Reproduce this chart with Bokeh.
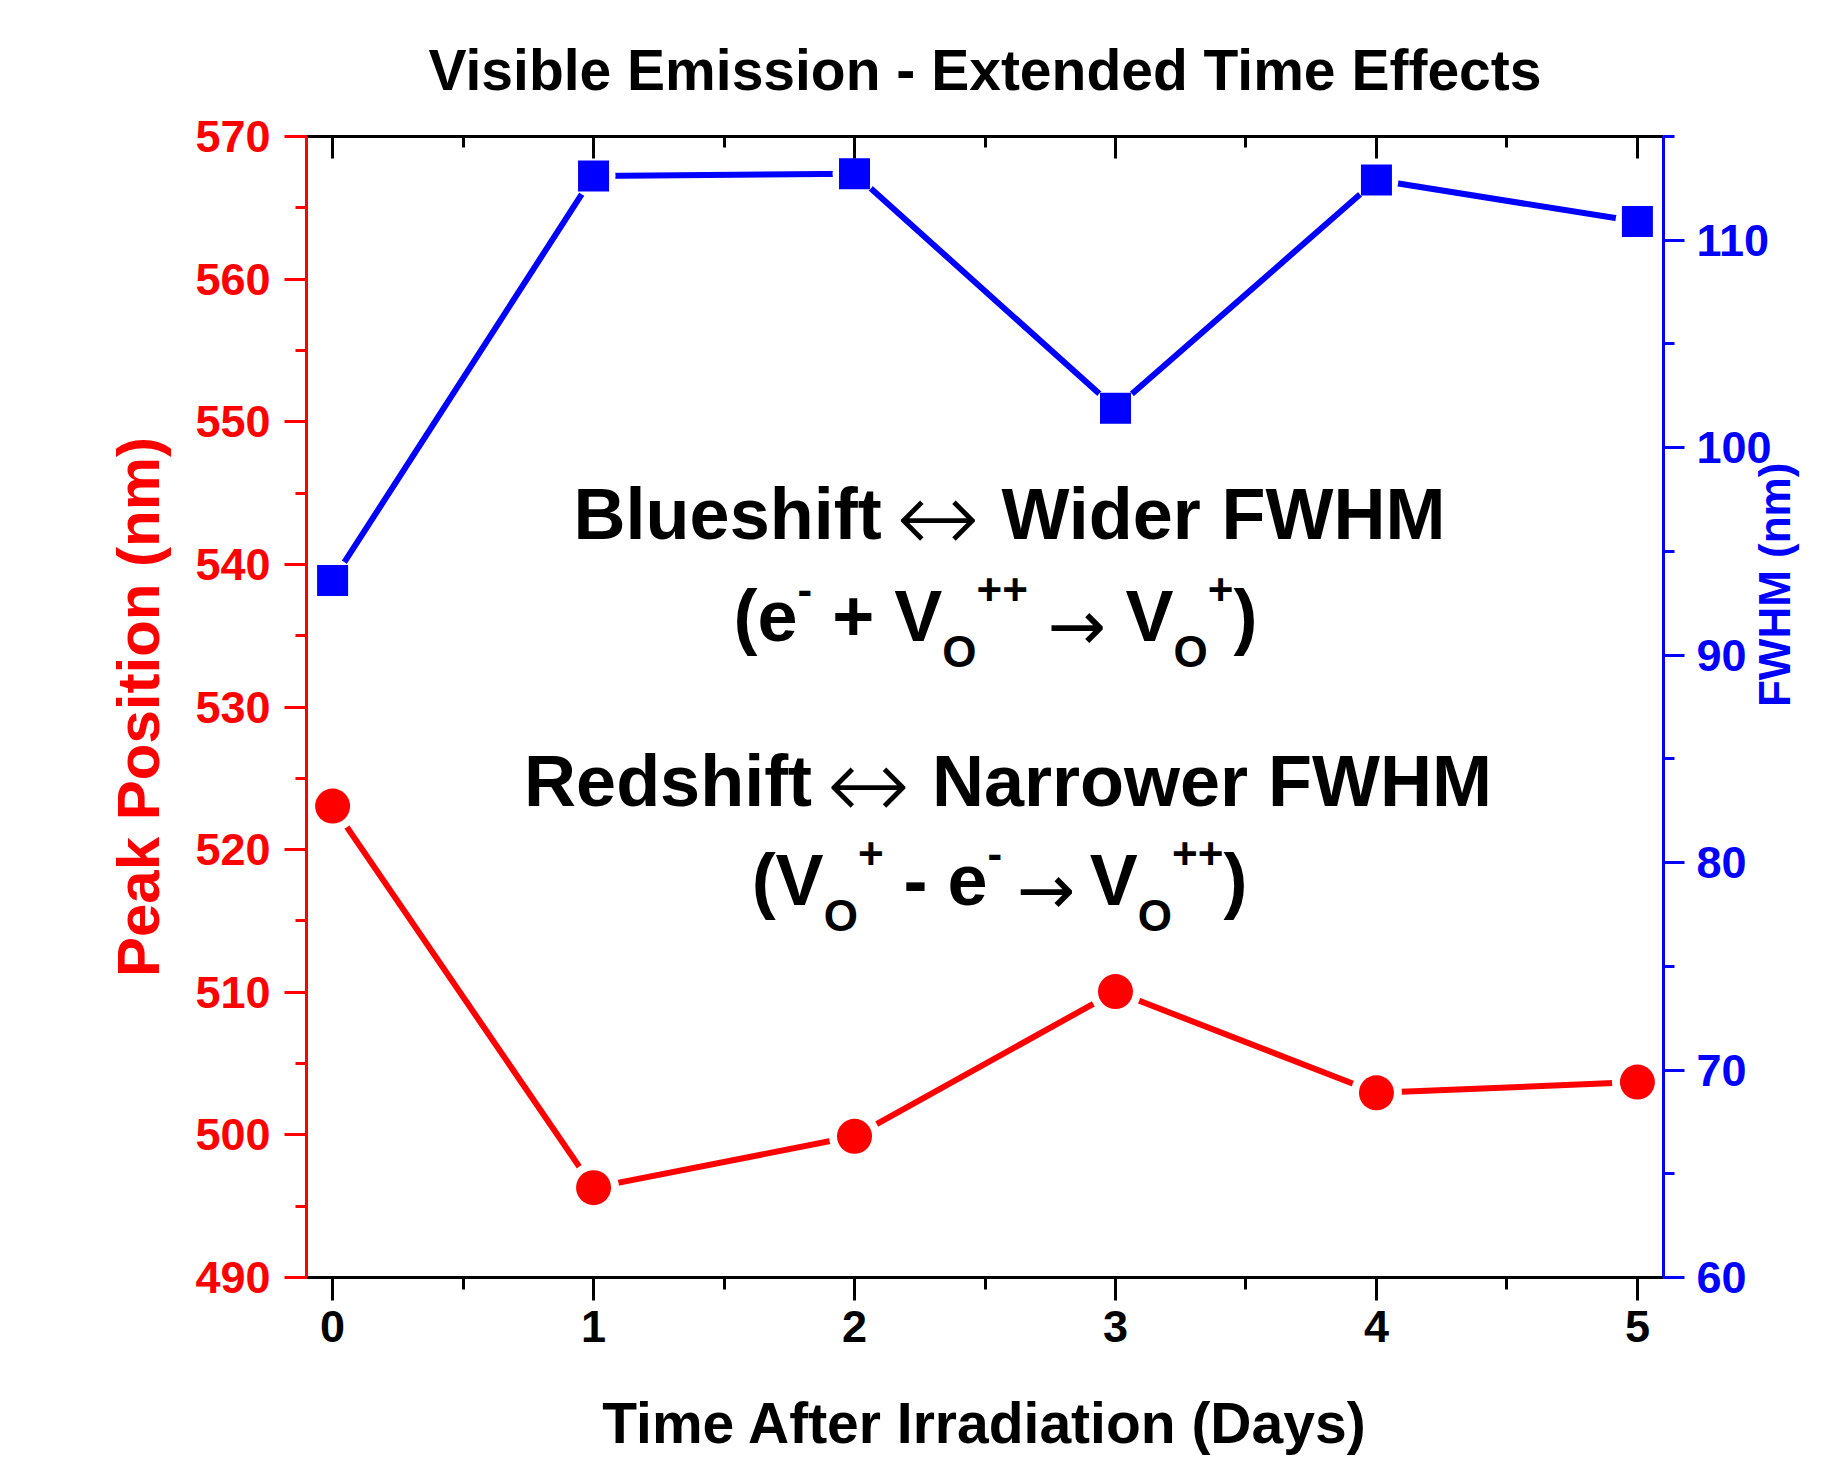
import math
from bokeh.plotting import figure
from bokeh.models import (Range1d, LinearAxis, SingleIntervalTicker, Label, Title,
                          ColumnDataSource, CustomJSTickFormatter)
from bokeh.embed import file_html
from bokeh.resources import INLINE

# ---------------- data ----------------
days = [0, 1, 2, 3, 4, 5]
peak_position_nm = [523.05, 496.3, 499.9, 510.05, 502.95, 503.7]
fwhm_nm = [93.6, 113.1, 113.2, 101.9, 112.9, 110.9]

title_text = "Visible Emission - Extended Time Effects"
x_label = "Time After Irradiation (Days)"
y_left_label = "Peak Position (nm)"
y_right_label = "FWHM (nm)"

x_min, x_max = -0.1, 5.1
left_min, left_max = 490, 570
right_min, right_max = 60, 115

# ---------------- style ----------------
RED = "#ff0000"
BLUE = "#0000ff"
BLACK = "#000000"
FONT = "Liberation Sans"
ARROW_FONT = "DejaVu Sans"

W, H = 1826, 1460
FRAME_L, FRAME_R, FRAME_T, FRAME_B = 306, 1668, 136, 1277

src = ColumnDataSource(dict(day=days, peak=peak_position_nm, fwhm=fwhm_nm))

p = figure(width=W, height=H, x_range=Range1d(x_min, x_max),
           y_range=Range1d(left_min, left_max),
           output_backend="svg", toolbar_location=None, title=None,
           min_border_left=FRAME_L, min_border_right=W - FRAME_R,
           min_border_top=FRAME_T, min_border_bottom=H - FRAME_B,
           x_axis_location=None, y_axis_location=None)
p.extra_y_ranges = {"fwhm": Range1d(right_min, right_max)}
p.outline_line_color = None
p.background_fill_color = "white"
p.border_fill_color = "white"
for g in p.grid:
    g.visible = False


def style_axis(ax, color, out_major, out_minor, in_major=0, in_minor=0, standoff=12):
    ax.axis_line_color = color
    ax.axis_line_width = 3
    ax.major_tick_line_color = color
    ax.minor_tick_line_color = color
    ax.major_tick_line_width = 3
    ax.minor_tick_line_width = 3
    ax.major_tick_out = out_major
    ax.minor_tick_out = out_minor
    ax.major_tick_in = in_major
    ax.minor_tick_in = in_minor
    ax.major_label_text_color = color
    ax.major_label_text_font = FONT
    ax.major_label_text_font_style = "bold"
    ax.major_label_text_font_size = "45px"
    ax.major_label_standoff = standoff
    ax.axis_label_text_color = color
    ax.axis_label_text_font = FONT
    ax.axis_label_text_font_style = "bold"


bottom = LinearAxis(ticker=SingleIntervalTicker(interval=1, num_minor_ticks=2))
style_axis(bottom, BLACK, 23, 12, standoff=10)
bottom.axis_label = x_label
bottom.axis_label_text_font_size = "57px"
bottom.axis_label_standoff = 46
p.add_layout(bottom, "below")

top = LinearAxis(ticker=SingleIntervalTicker(interval=1, num_minor_ticks=2),
                 formatter=CustomJSTickFormatter(code="return ''"))
style_axis(top, BLACK, 0, 0, in_major=22, in_minor=11, standoff=0)
top.major_label_text_font_size = "0px"
p.add_layout(top, "above")

left = LinearAxis(ticker=SingleIntervalTicker(interval=10, num_minor_ticks=2))
style_axis(left, RED, 22, 11, standoff=14)
left.axis_label = y_left_label
left.axis_label_text_font_size = "60px"
left.axis_label_standoff = 20
p.add_layout(left, "left")

right = LinearAxis(y_range_name="fwhm",
                   ticker=SingleIntervalTicker(interval=10, num_minor_ticks=2))
style_axis(right, BLUE, 21, 11, standoff=12)
right.axis_label = y_right_label
right.axis_label_text_font_size = "44px"
right.axis_label_standoff = 0
right.axis_label_orientation = math.pi / 2
p.add_layout(right, "right")

p.add_layout(Title(text=title_text, align="center", text_font=FONT,
                   text_font_size="57px", text_font_style="bold",
                   text_color=BLACK, standoff=69), "above")

# ---------------- series ----------------
p.line("day", "peak", source=src, line_color=RED, line_width=6,
       line_cap="round", line_join="round")
p.line("day", "fwhm", source=src, line_color=BLUE, line_width=6,
       line_cap="round", line_join="round", y_range_name="fwhm")
# white halos give the line gaps around the markers
p.scatter("day", "peak", source=src, marker="circle", size=51,
          fill_color="white", line_color=None)
p.scatter("day", "fwhm", source=src, marker="circle", size=44,
          fill_color="white", line_color=None, y_range_name="fwhm")
p.scatter("day", "peak", source=src, marker="circle", size=35,
          fill_color=RED, line_color=None)
p.scatter("day", "fwhm", source=src, marker="square", size=31,
          fill_color=BLUE, line_color=None, y_range_name="fwhm")

# ---------------- annotation text ----------------
K_BASE = 0.38  # empirical baseline correction (fraction of font size)


def sx(px):
    return px - FRAME_L


def sy(py):
    return FRAME_B - py


def add_label(text, x, y, size, style="bold", font=FONT, color=BLACK):
    p.add_layout(Label(x=x, y=y + K_BASE * size, x_units="screen", y_units="screen",
                       text=text, text_font=font, text_font_size=f"{size}px",
                       text_font_style=style, text_color=color,
                       text_align="left", text_baseline="alphabetic"))


BOLD_W = {"(": .333, ")": .333, "+": .584, "-": .333, "O": .778,
          "V": .667, "B": .722, "l": .278, "u": .611, "e": .556, "s": .556,
          "h": .611, "i": .278, "f": .333, "t": .333, "W": .944, "d": .611,
          "r": .389, "F": .611, "H": .722, "M": .833, "R": .722, "N": .722,
          "a": .556, "o": .611, "w": .778, " ": .278}
ARROW_W = {"\u2194": 0.838, "\u2192": 0.838}

MAIN, SMALL = 72, 44
BIG_ARROW, ARROW = 100, 70
SUP, SUB = 37, -25
SPACE = 0.278


def compose(pieces, cx, base):
    def width(item):
        if item[0] == "gap":
            return item[1] * MAIN
        t, s, kind, _ = item
        table = BOLD_W if kind == "text" else ARROW_W
        return sum(table[c] for c in t) * s
    total = sum(width(it) for it in pieces)
    x = cx - total / 2
    for it in pieces:
        if it[0] != "gap":
            t, s, kind, dy = it
            if kind == "text":
                add_label(t, x, base + dy, s)
            else:
                add_label(t, x, base + dy, s, style="normal", font=ARROW_FONT)
        x += width(it)


def main(t):
    return (t, MAIN, "text", 0)


def sup(t):
    return (t, SMALL, "text", SUP)


def sub(t):
    return (t, SMALL, "text", SUB)


def big_arrow():
    return ("\u2194", BIG_ARROW, "arrow", -14)


def arrow():
    return ("\u2192", ARROW, "arrow", -9)


compose([main("Blueshift"), ("gap", 0.2), big_arrow(), ("gap", 0.3),
         main("Wider"), ("gap", SPACE), main("FWHM")],
        sx(1009), sy(541))
compose([main("(e"), sup("-"), ("gap", SPACE), main("+"), ("gap", SPACE),
         main("V"), sub("O"), sup("++"), ("gap", 0.27), arrow(), ("gap", 0.27),
         main("V"), sub("O"), sup("+"), main(")")],
        sx(995), sy(643))
compose([main("Redshift"), ("gap", 0.2), big_arrow(), ("gap", 0.3),
         main("Narrower"), ("gap", SPACE), main("FWHM")],
        sx(1007.5), sy(808))
compose([main("(V"), sub("O"), sup("+"), ("gap", SPACE), main("-"),
         ("gap", SPACE), main("e"), sup("-"), ("gap", 0.2), arrow(), ("gap", 0.2),
         main("V"), sub("O"), sup("++"), main(")")],
        sx(999), sy(907))

open("out.html", "w").write(file_html(p, INLINE))
